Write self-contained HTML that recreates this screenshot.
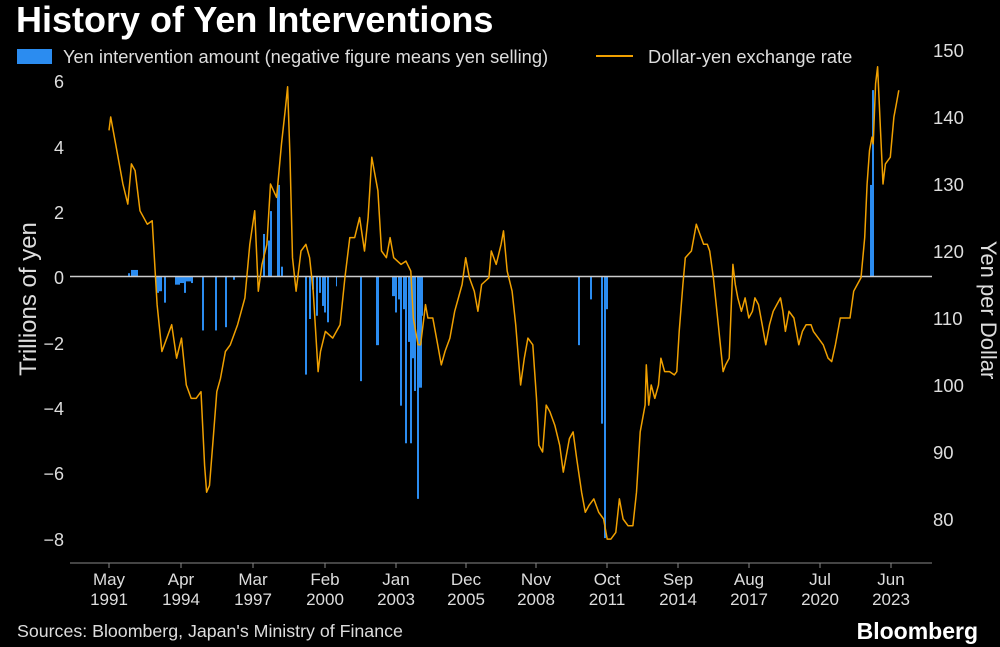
<!DOCTYPE html>
<html><head><meta charset="utf-8"><style>
html,body{margin:0;padding:0;background:#000;width:1000px;height:647px;overflow:hidden}
svg{display:block;font-family:"Liberation Sans",Arial,sans-serif}
</style></head><body>
<svg id="s" width="1000" height="647" viewBox="0 0 1000 647">
<rect width="1000" height="647" fill="#000"/>
<text x="16" y="32" fill="#fff" font-size="36" font-weight="bold">History of Yen Interventions</text>
<rect x="17" y="49" width="35" height="15" fill="#2b8cf0"/>
<text x="63" y="63" fill="#ddd" font-size="18.3">Yen intervention amount (negative figure means yen selling)</text>
<line x1="596" y1="56" x2="633" y2="56" stroke="#f0a000" stroke-width="2"/>
<text x="648" y="63" fill="#ddd" font-size="18.3">Dollar-yen exchange rate</text>
<g fill="#ddd" font-size="18" text-anchor="end">
<text x="64" y="88">6</text><text x="64" y="154">4</text><text x="64" y="219">2</text><text x="64" y="284">0</text>
<text x="64" y="350">−2</text><text x="64" y="415">−4</text><text x="64" y="480">−6</text><text x="64" y="546">−8</text>
</g>
<g fill="#ddd" font-size="18.5">
<text x="933" y="57">150</text><text x="933" y="124">140</text><text x="933" y="191">130</text><text x="933" y="258">120</text>
<text x="933" y="325">110</text><text x="933" y="392">100</text><text x="933" y="459">90</text><text x="933" y="526">80</text>
</g>
<text transform="translate(36,299) rotate(-90)" fill="#ddd" font-size="24" text-anchor="middle">Trillions of yen</text>
<text transform="translate(981,310) rotate(90)" fill="#ddd" font-size="22" text-anchor="middle">Yen per Dollar</text>
<line x1="70" y1="563" x2="932" y2="563" stroke="#888" stroke-width="1"/>
<g id="xt" fill="#ddd" font-size="17" text-anchor="middle"></g>
<g id="bars" fill="#2b8cf0"></g>
<line x1="70" y1="276.5" x2="932" y2="276.5" stroke="#ccc" stroke-width="1.5"/>
<polyline id="ln" fill="none" stroke="#f0a000" stroke-width="1.5" stroke-linejoin="round"/>
<text x="17" y="637" fill="#ddd" font-size="17.8">Sources: Bloomberg, Japan's Ministry of Finance</text>
<text x="978" y="639" fill="#fff" font-size="23" font-weight="bold" text-anchor="end">Bloomberg</text>
</svg>
<script>
var ns="http://www.w3.org/2000/svg";
var xt=document.getElementById("xt");
var labs=[["May","1991",109],["Apr","1994",181],["Mar","1997",253],["Feb","2000",325],["Jan","2003",396],["Dec","2005",466],["Nov","2008",536],["Oct","2011",607],["Sep","2014",678],["Aug","2017",749],["Jul","2020",820],["Jun","2023",891]];
labs.forEach(function(l){
 var ln=document.createElementNS(ns,"line");ln.setAttribute("x1",l[2]);ln.setAttribute("x2",l[2]);ln.setAttribute("y1",563);ln.setAttribute("y2",568);ln.setAttribute("stroke","#888");xt.appendChild(ln);
 var t=document.createElementNS(ns,"text");t.setAttribute("x",l[2]);t.setAttribute("y",585);t.textContent=l[0];xt.appendChild(t);
 var t2=document.createElementNS(ns,"text");t2.setAttribute("x",l[2]);t2.setAttribute("y",605);t2.textContent=l[1];xt.appendChild(t2);
});
function yl(v){return 276.5-v*32.7;}
var bars=[[128,2,0.1],[131,7,0.2],[156,3,-0.5],[159,3,-0.45],[164,2,-0.8],[175,5,-0.25],[180,4,-0.2],[184,2,-0.5],[186,5,-0.15],[191,2,-0.2],[202,2,-1.65],[215,2,-1.65],[225,2,-1.55],[233,2,-0.1],
[263,2,1.3],[268,2,1.1],[270,2,2.0],[277,3,2.8],[281,2,0.3],
[305,2,-3.0],[309,2,-1.3],[312,2,-0.4],[316,2,-1.2],[319,2,-0.5],[322,2,-0.9],[324,2,-1.1],[327,2,-1.4],[336,1,-0.3],[360,2,-3.2],[376,3,-2.1],
[392,3,-0.6],[395,2,-1.1],[398,2,-0.7],[400,2,-3.95],[403,2,-1.0],[405,2,-5.1],[408,2,-2.0],[410,2,-5.1],[412,2,-2.5],[414,2,-3.5],[417,2,-6.8],[419,3,-3.4],[421,2,-1.2],
[578,2,-2.1],[590,2,-0.7],[601,2,-4.5],[604,2,-8.0],[606,2,-1.0],[870,2,2.8],[872,2,5.7]];
var bg=document.getElementById("bars");
bars.forEach(function(b){var y=yl(b[2]);var r=document.createElementNS(ns,"rect");r.setAttribute("x",b[0]);r.setAttribute("width",b[1]);r.setAttribute("y",Math.min(y,276.5));r.setAttribute("height",Math.abs(y-276.5));bg.appendChild(r);});
var d=[1991.33,138,1991.4,140,1991.6,136,1991.9,130,1992.1,127,1992.25,133,1992.4,132,1992.6,126,1992.9,124,1993.1,124.5,1993.3,112,1993.5,105,1993.7,107,1993.9,109,1994.1,104,1994.3,107,1994.5,100,1994.7,98,1994.9,98,1995.1,99,1995.25,88,1995.33,84,1995.45,85,1995.6,92,1995.75,99,1995.9,101,1996.1,105,1996.3,106,1996.6,109,1996.9,113,1997.1,121,1997.3,126,1997.45,114,1997.6,118,1997.8,121,1997.95,130,1998.2,128,1998.4,136,1998.55,141,1998.65,144.5,1998.75,134,1998.85,119,1999.0,114,1999.2,120,1999.4,121,1999.55,119,1999.7,114,1999.9,102,2000.0,105,2000.2,108,2000.5,107,2000.8,109,2001.0,116,2001.2,122,2001.4,122,2001.6,125,2001.8,120,2001.95,125,2002.1,134,2002.2,132,2002.35,129,2002.5,120,2002.7,119,2002.85,122,2003.0,119,2003.3,118,2003.5,118.5,2003.7,117,2003.8,110,2004.0,106,2004.1,106,2004.3,112,2004.4,110,2004.6,110,2004.8,106,2004.95,103,2005.1,105,2005.3,107,2005.5,111,2005.8,115,2005.95,119,2006.1,116,2006.3,114,2006.45,111,2006.6,115,2006.9,116,2007.0,120,2007.2,118,2007.4,121,2007.5,123,2007.65,117,2007.85,114,2008.0,109,2008.2,100,2008.35,104,2008.5,107,2008.7,106,2008.85,98,2008.95,91,2009.1,90,2009.25,97,2009.4,96,2009.6,94,2009.8,91,2009.95,87,2010.2,92,2010.35,93,2010.5,89,2010.7,84,2010.85,81,2011.0,82,2011.2,83,2011.4,81,2011.6,80,2011.75,77,2011.9,77,2012.1,78,2012.25,83,2012.4,80,2012.6,79,2012.8,79,2012.95,84,2013.1,93,2013.3,97,2013.35,103,2013.45,97,2013.55,100,2013.7,98,2013.85,100,2013.95,104,2014.1,102,2014.3,102,2014.5,101.5,2014.6,102,2014.7,108,2014.85,115,2014.95,119,2015.2,120,2015.4,124,2015.5,123,2015.7,121,2015.85,121,2015.95,120,2016.1,116,2016.3,109,2016.5,102,2016.6,103,2016.75,104,2016.9,118,2017.0,115,2017.1,113,2017.25,111,2017.4,113,2017.55,110,2017.7,111,2017.8,113,2017.95,112,2018.1,109,2018.25,106,2018.4,109,2018.55,111,2018.7,112,2018.85,113,2018.95,111,2019.05,108,2019.2,111,2019.4,110,2019.6,106,2019.75,108,2019.9,109,2020.1,109,2020.2,108,2020.4,107,2020.6,106,2020.8,104,2020.95,103.5,2021.1,106,2021.3,110,2021.5,110,2021.7,110,2021.85,114,2022.0,115,2022.15,116,2022.3,122,2022.4,130,2022.5,135,2022.6,137,2022.65,136,2022.75,145,2022.83,147.5,2022.95,138,2023.05,130,2023.15,133,2023.35,134,2023.5,140,2023.6,142,2023.7,144];
var p=[];for(var i=0;i<d.length;i+=2){p.push((109+(d[i]-1991.33)*24.4).toFixed(1)+","+(50+(150-d[i+1])*6.7).toFixed(1));}
document.getElementById("ln").setAttribute("points",p.join(" "));
</script>
</body></html>
